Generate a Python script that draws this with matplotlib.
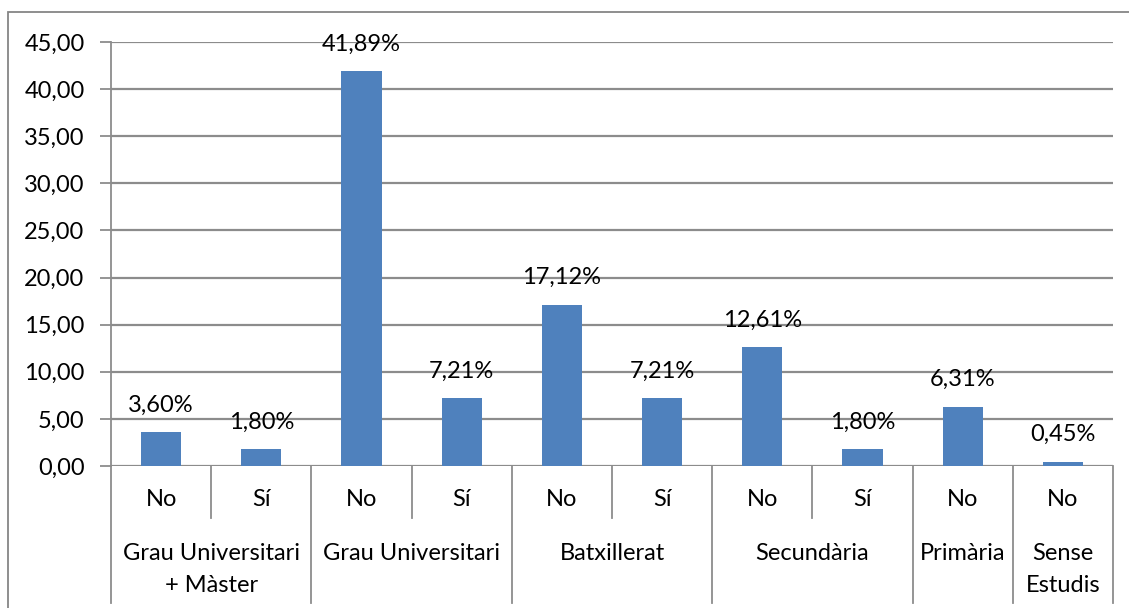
import matplotlib
matplotlib.use("Agg")
import matplotlib.pyplot as plt
from matplotlib.patches import Rectangle
from matplotlib.transforms import blended_transform_factory

plt.rcParams['font.family'] = ['Lato', 'DejaVu Sans']

values = [3.60, 1.80, 41.89, 7.21, 17.12, 7.21, 12.61, 1.80, 6.31, 0.45]
sub_labels = ["No", "Sí", "No", "Sí", "No", "Sí", "No", "Sí", "No", "No"]
groups = [["Grau Universitari", "+ Màster"], ["Grau Universitari"], ["Batxillerat"],
          ["Secundària"], ["Primària"], ["Sense", "Estudis"]]
group_sizes = [2, 2, 2, 2, 1, 1]
yticks = [0, 5, 10, 15, 20, 25, 30, 35, 40, 45]

W, H = 1129, 608
FS = 17
fig = plt.figure(figsize=(W / 100, H / 100), dpi=100)
ax = fig.add_axes([111 / W, 1 - 466 / H, (1113 - 111) / W, (466 - 42) / H])

# outer chart border
fig.patches.append(Rectangle((8 / W, -0.1), 1.2, (H - 12) / H + 0.1,
                             transform=fig.transFigure, fill=False,
                             edgecolor='#868686', linewidth=1.3))

grid_c = '#8c8c8c'
x = list(range(len(values)))
ax.bar(x, values, width=0.4, color='#4F81BD', zorder=3)
ax.set_xlim(-0.5, len(values) - 0.5)
ax.set_ylim(0, 45)
ax.set_yticks(yticks)
ax.set_yticklabels([f"{v:.2f}".replace('.', ',') for v in yticks], fontsize=FS)
ax.tick_params(axis='y', length=8, width=1.3, color=grid_c, pad=11)
ax.set_xticks([])
for s in ['top', 'right', 'bottom']:
    ax.spines[s].set_visible(False)
ax.spines['left'].set_color(grid_c)
ax.spines['left'].set_linewidth(1.3)
ax.yaxis.grid(True, color=grid_c, linewidth=1.6)
ax.set_axisbelow(True)

for xi, v in zip(x, values):
    ax.annotate(f"{v:.2f}".replace('.', ',') + "%", (xi, v), xytext=(0, 19.5),
                textcoords='offset points', ha='center', va='center', fontsize=FS)

tr = blended_transform_factory(ax.transData, fig.transFigure)
def fy(py):
    return 1 - py / H

# sub labels
for xi, lab in zip(x, sub_labels):
    ax.text(xi, fy(500), lab, transform=tr, ha='center', va='center', fontsize=FS)

# separators
bounds = [-0.5]
pos = -0.5
for g in group_sizes:
    pos += g
    bounds.append(pos)
for b in bounds:
    ax.plot([b, b], [fy(466), fy(603)], transform=tr, color=grid_c, lw=1.3, clip_on=False)
inner = []
pos = -0.5
for g in group_sizes:
    for k in range(1, g):
        inner.append(pos + k)
    pos += g
for b in inner:
    ax.plot([b, b], [fy(466), fy(518)], transform=tr, color=grid_c, lw=1.3, clip_on=False)

# group labels
for i, lines in enumerate(groups):
    c = (bounds[i] + bounds[i + 1]) / 2
    for j, ln in enumerate(lines):
        ax.text(c, fy(553 + 32 * j), ln, transform=tr, ha='center', va='center',
                fontsize=FS)

fig.savefig("out.png", dpi=100)
